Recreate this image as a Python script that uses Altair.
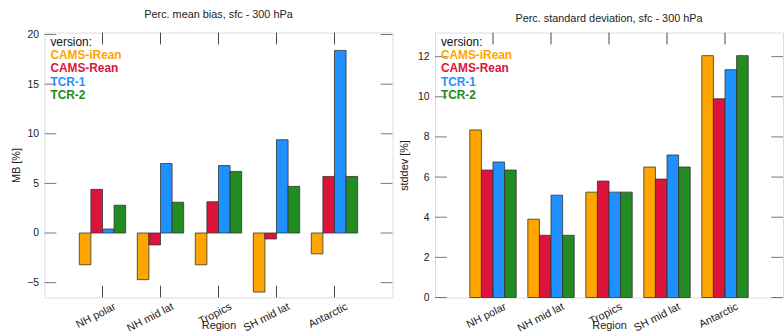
import altair as alt
import pandas as pd

regions = ["NH polar", "NH mid lat", "Tropics", "SH mid lat", "Antarctic"]
versions = ["CAMS-iRean", "CAMS-Rean", "TCR-1", "TCR-2"]
colors = ["#FFA500", "#DC143C", "#1E90FF", "#228B22"]

mb_cams_irean = [-3.2, -4.7, -3.2, -5.95, -2.1]
mb_cams_rean = [4.4, -1.2, 3.15, -0.6, 5.7]
mb_tcr1 = [0.4, 7.0, 6.8, 9.4, 18.4]
mb_tcr2 = [2.8, 3.1, 6.2, 4.7, 5.7]

sd_cams_irean = [8.35, 3.9, 5.25, 6.5, 12.05]
sd_cams_rean = [6.35, 3.1, 5.8, 5.9, 9.9]
sd_tcr1 = [6.75, 5.1, 5.25, 7.1, 11.35]
sd_tcr2 = [6.35, 3.1, 5.25, 6.5, 12.05]

mb_ticks = [-5, 0, 5, 10, 15, 20]
sd_ticks = [0, 2, 4, 6, 8, 10, 12]

FONT = "Liberation Sans"
W, H = 352, 268


def long_df(series):
    rows = []
    for v, vals in zip(versions, series):
        for r, val in zip(regions, vals):
            rows.append({"region": r, "version": v, "value": val})
    return pd.DataFrame(rows)


def panel(series, title, ylab, domain, ticks, title_pad, title_offset):
    df = long_df(series)
    xenc = alt.X(
        "region:N", sort=regions,
        scale=alt.Scale(paddingInner=0.2, paddingOuter=0.6),
        axis=alt.Axis(title="Region", labelAngle=333, ticks=False, domain=False,
                      labelAlign="right", labelBaseline="top", labelPadding=3,
                      labelOffset=10, labelFontSize=11, titleFontSize=11,
                      titleFontWeight="normal", titleY=28.5, titleBaseline="middle",
                      labelFont=FONT, titleFont=FONT, labelColor="#222", titleColor="#222"),
    )
    yenc = alt.Y(
        "value:Q",
        scale=alt.Scale(domain=domain, nice=False, zero=False),
        axis=alt.Axis(title=ylab, values=ticks, ticks=False, domain=False, grid=False,
                      labelPadding=6, labelFontSize=10.5, titleFontSize=11,
                      titleFontWeight="normal", titlePadding=title_pad,
                      labelFont=FONT, titleFont=FONT, labelColor="#222", titleColor="#222"),
    )
    cenc = alt.Color("version:N", scale=alt.Scale(domain=versions, range=colors), legend=None)

    bars = alt.Chart(df).mark_bar(stroke="#333", strokeWidth=0.8).encode(
        x=xenc,
        xOffset=alt.XOffset("version:N", sort=versions,
                            scale=alt.Scale(paddingInner=0, paddingOuter=0)),
        y=yenc,
        color=cenc,
    )

    ytick_df = pd.DataFrame({"value": ticks})
    yt_left = alt.Chart(ytick_df).mark_rule(color="#777", strokeWidth=1).encode(
        y=yenc, x=alt.value(0), x2=alt.value(12))
    yt_right = alt.Chart(ytick_df).mark_rule(color="#777", strokeWidth=1).encode(
        y=yenc, x=alt.value(W - 12), x2=alt.value(W))

    xtick_df = pd.DataFrame({"region": regions})
    xt_top = alt.Chart(xtick_df).mark_rule(color="#444", strokeWidth=1).encode(
        x=xenc, y=alt.value(0), y2=alt.value(12))
    xt_bot = alt.Chart(xtick_df).mark_rule(color="#444", strokeWidth=1).encode(
        x=xenc, y=alt.value(H - 12), y2=alt.value(H))

    leg_df = pd.DataFrame({"version": versions,
                           "ypix": [23 + 13.4 * i for i in range(len(versions))]})
    leg_head = alt.Chart(pd.DataFrame({"t": ["version:"]})).mark_text(
        align="left", baseline="middle", fontSize=12, font=FONT, color="#111"
    ).encode(text="t:N", x=alt.value(6), y=alt.value(9.5))
    leg = alt.Chart(leg_df).mark_text(
        align="left", baseline="middle", fontSize=12, font=FONT, fontWeight="bold"
    ).encode(text="version:N", x=alt.value(6),
             y=alt.Y("ypix:Q", scale=None), color=cenc)

    return alt.layer(bars, yt_left, yt_right, xt_top, xt_bot, leg_head, leg).properties(
        width=W, height=H,
        title=alt.Title(title, fontSize=11, font=FONT, fontWeight="normal",
                        color="#222", offset=title_offset),
    )


left = panel([mb_cams_irean, mb_cams_rean, mb_tcr1, mb_tcr2],
             "Perc. mean bias, sfc - 300 hPa", "MB [%]", [-6.5, 20.2], mb_ticks, 5, 10)
right = panel([sd_cams_irean, sd_cams_rean, sd_tcr1, sd_tcr2],
              "Perc. standard deviation, sfc - 300 hPa", "stddev [%]", [0, 13.2], sd_ticks, 8, 8)

chart = alt.hconcat(left, right, spacing=4).properties(
    padding={"left": 10, "top": 6, "right": 0, "bottom": 0}
).configure_view(stroke="#888", strokeWidth=1.2).configure(background="white")

chart.save("out.html", embed_options={"renderer": "svg", "actions": False})
